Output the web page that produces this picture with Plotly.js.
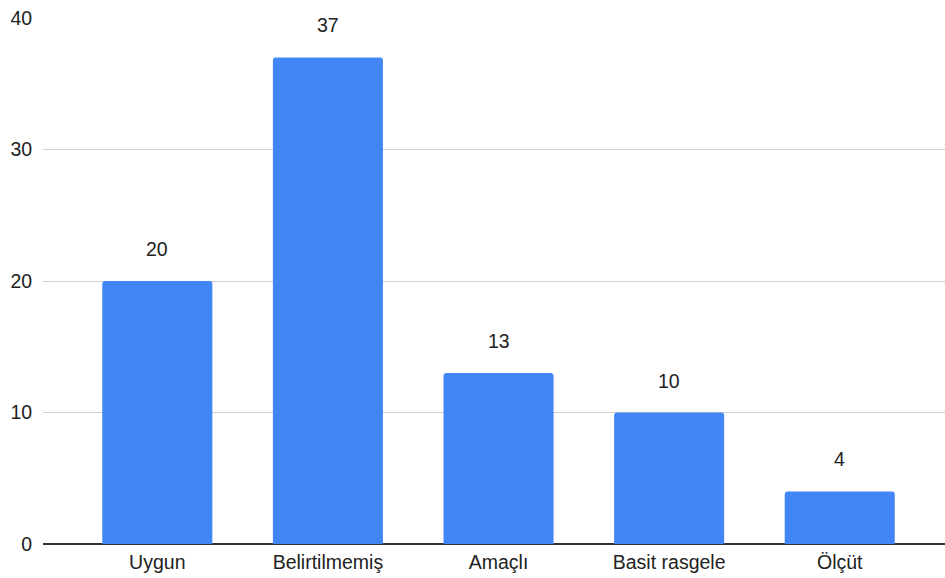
<!DOCTYPE html>
<html><head><meta charset="utf-8">
<script src="https://cdn.plot.ly/plotly-3.0.1.min.js"></script>
<style>body{margin:0;background:#fff}#chart{width:945px;height:578px}</style>
</head><body><div id="chart"></div>
<script>
const categories = ["Uygun", "Belirtilmemiş", "Amaçlı", "Basit rasgele", "Ölçüt"];
const values = [20, 37, 13, 10, 4];
const yTicks = [0, 10, 20, 30, 40];

const font = {family: "'Liberation Sans', Arial, sans-serif", size: 19.5, color: "#222"};

const trace = {
  type: "bar",
  x: categories,
  y: values,
  marker: {color: "#4285F4", cornerradius: 3},
  hoverinfo: "x+y"
};

const annotations = categories.map((c, i) => ({
  x: c, y: values[i], xref: "x", yref: "y",
  text: String(values[i]), showarrow: false,
  yanchor: "middle", yshift: 32,
  bgcolor: "#fff", font: font
}));

const layout = {
  width: 945, height: 578,
  margin: {l: 43, r: 0, t: 18, b: 34},
  paper_bgcolor: "#fff", plot_bgcolor: "#fff",
  font: font,
  bargap: 0.355,
  showlegend: false,
  xaxis: {
    type: "category",
    range: [-0.67, 4.617],
    showgrid: false, zeroline: false,
    showline: false,
    ticks: "outside", ticklen: 1, tickcolor: "rgba(0,0,0,0)",
    tickfont: font, fixedrange: true
  },
  yaxis: {
    range: [0, 40],
    tickvals: yTicks,
    ticktext: yTicks.map(String),
    showgrid: true, gridcolor: "#d0d0d0", gridwidth: 1,
    zeroline: true, zerolinecolor: "#333", zerolinewidth: 1.5,
    ticks: "outside", ticklen: 6, tickcolor: "rgba(0,0,0,0)",
    tickfont: font, fixedrange: true
  },
  annotations: annotations
};

Plotly.newPlot("chart", [trace], layout, {displayModeBar: false, staticPlot: true});
</script></body></html>
